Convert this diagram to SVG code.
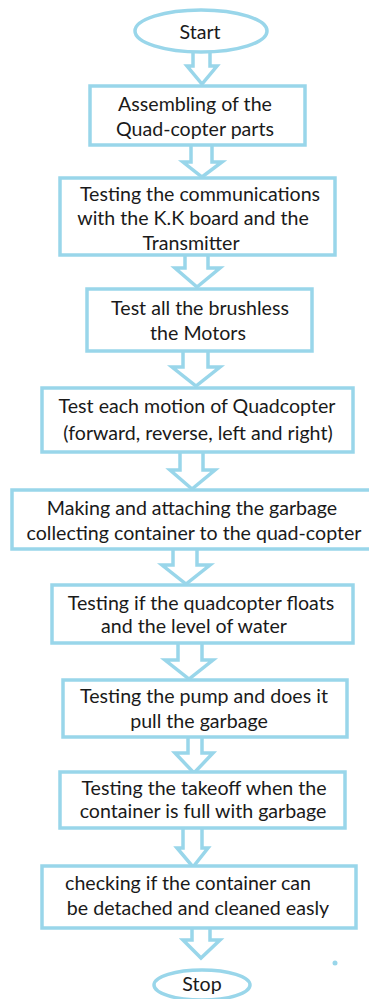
<svg xmlns="http://www.w3.org/2000/svg" width="369" height="999" viewBox="0 0 369 999">
<style>
.n{fill:#fff;stroke:#99d6ea;stroke-width:3.5}
.a{fill:#fff;stroke:#99d6ea;stroke-width:3.5;stroke-linejoin:miter}
text{font-family:Lato,"Open Sans",sans-serif;font-size:19.6px;fill:#1a1a1a;text-anchor:middle;dominant-baseline:central}
</style>
<rect width="369" height="999" fill="#fff"/>
<g id="connectors">
<path class="a" d="M193,52 V66 H187 L202,84 L217,66 H210 V52"/>
<path class="a" d="M191,145 V162 H183 L202,177 L222,162 H212 V145"/>
<path class="a" d="M185,255 V268 H175 L197,287 L220,268 H208 V255"/>
<path class="a" d="M183,351 V367 H172 L196,386 L220,367 H208 V351"/>
<path class="a" d="M180,452 V470 H170 L192,489 L215,470 H203 V452"/>
<path class="a" d="M173,549 V565 H162 L186,584 L210,565 H197 V549"/>
<path class="a" d="M178,643 V660 H165 L189,679 L213,660 H202 V643"/>
<path class="a" d="M188,737 V753 H175 L194,773 L213,753 H202 V737"/>
<path class="a" d="M183,828 V848 H177 L193,867 L208,848 H202 V828"/>
<path class="a" d="M192,928 V940 H183 L201,958 L220,940 H210 V928"/>
</g>
<g id="start"><ellipse class="n" cx="201" cy="31" rx="66" ry="21"/><text x="200" y="31">Start</text></g>
<g id="step1"><rect class="n" x="90" y="86" width="215" height="59"/><text x="195" y="103">Assembling of the</text><text x="195" y="128">Quad-copter parts</text></g>
<g id="step2"><rect class="n" x="60" y="178" width="275" height="77"/><text x="200" y="193">Testing the communications</text><text x="193" y="217">with the K.K board and the</text><text x="191" y="242">Transmitter</text></g>
<g id="step3"><rect class="n" x="87" y="289" width="225" height="62"/><text x="200" y="307">Test all the brushless</text><text x="198" y="332">the Motors</text></g>
<g id="step4"><rect class="n" x="42" y="388" width="311" height="64"/><text x="197" y="405">Test each motion of Quadcopter</text><text x="198" y="432">(forward, reverse, left and right)</text></g>
<g id="step5"><rect class="n" x="12" y="490" width="359" height="59"/><text x="192" y="507">Making and attaching the garbage</text><text x="194" y="532">collecting container to the quad-copter</text></g>
<g id="step6"><rect class="n" x="52" y="585" width="301" height="58"/><text x="201" y="602">Testing if the quadcopter floats</text><text x="194" y="625">and the level of water</text></g>
<g id="step7"><rect class="n" x="63" y="680" width="284" height="57"/><text x="204" y="695">Testing the pump and does it</text><text x="199" y="720">pull the garbage</text></g>
<g id="step8"><rect class="n" x="60" y="772" width="285" height="56"/><text x="204" y="787">Testing the takeoff when the</text><text x="203" y="810">container is full with garbage</text></g>
<g id="step9"><rect class="n" x="42" y="866" width="314" height="62"/><text x="188" y="882">checking if the container can</text><text x="198" y="907">be detached and cleaned easly</text></g>
<g id="stop"><ellipse class="n" cx="202" cy="985" rx="48" ry="15"/><text x="202" y="983">Stop</text></g>
<circle cx="335" cy="963" r="2.5" fill="#99d6ea"/>
</svg>
